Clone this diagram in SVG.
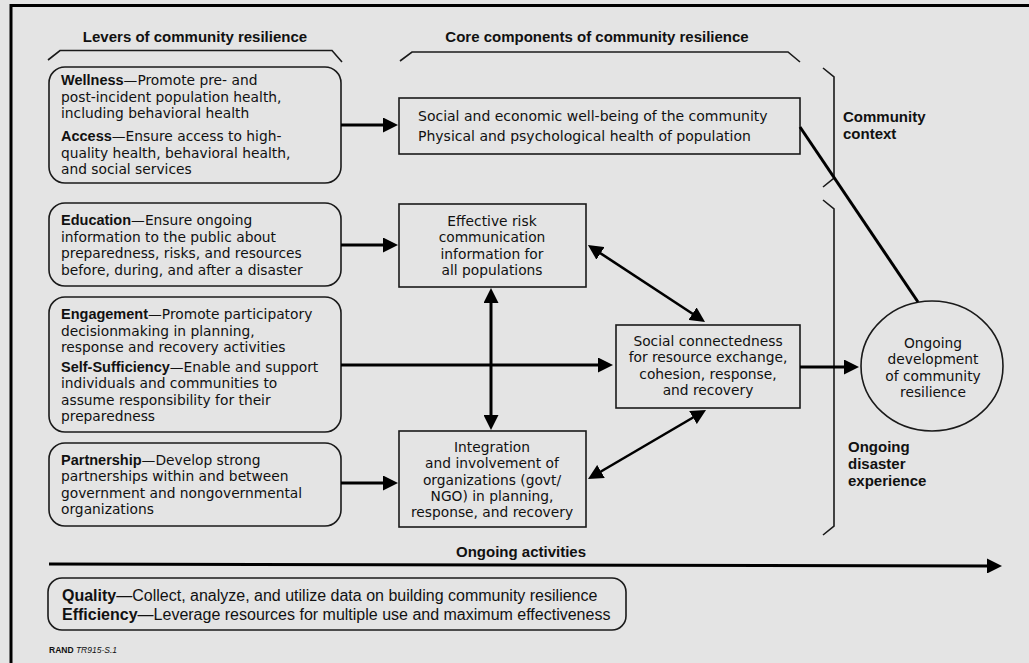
<svg xmlns="http://www.w3.org/2000/svg" width="1029" height="663" viewBox="0 0 1029 663">
  <style>
    .t { font-family: "DejaVu Sans", "Noto Sans", sans-serif; font-size: 13.8px; fill: #111; }
    .b { font-family: "Liberation Sans", Arial, sans-serif; font-weight: bold; font-size: 14.5px; }
    .h { font-family: "Liberation Sans", Arial, sans-serif; font-weight: bold; font-size: 15px; fill: #111; }
    .c { text-anchor: middle; }
    .q { font-family: "Liberation Sans", Arial, sans-serif; font-size: 16px; fill: #111; }
    .qb { font-weight: bold; }
    .box { fill: none; stroke: #1a1a1a; stroke-width: 1.6; }
    .brk { fill: none; stroke: #1a1a1a; stroke-width: 1.6; }
    .arr { fill: none; stroke: #000; stroke-width: 3; }
    .arr2 { fill: none; stroke: #000; stroke-width: 2.6; }
  </style>
  <defs>
    <marker id="head" viewBox="0 0 10 10" refX="4" refY="5" markerWidth="5" markerHeight="5" orient="auto-start-reverse" markerUnits="strokeWidth">
      <path d="M0,0 L10,5 L0,10 z" fill="#000"/>
    </marker>
    <marker id="head2" viewBox="0 0 10 10" refX="4" refY="5" markerWidth="5.8" markerHeight="5.8" orient="auto-start-reverse" markerUnits="strokeWidth">
      <path d="M0,0 L10,5 L0,10 z" fill="#000"/>
    </marker>
  </defs>

  <!-- page and frame -->
  <rect x="0" y="0" width="1029" height="663" fill="#e4e4e4"/>
  <path d="M11,663 V5.5 H1029" fill="none" stroke="#000" stroke-width="3"/>

  <!-- column headings with brackets -->
  <g id="heading-levers">
    <text class="h c" x="195" y="42">Levers of community resilience</text>
    <path class="brk" d="M48,60 L60,50.5 H332 L342,62"/>
  </g>
  <g id="heading-core">
    <text class="h c" x="597" y="42">Core components of community resilience</text>
    <path class="brk" d="M400,61 L412,52 H788 L800,62"/>
  </g>

  <!-- side brackets -->
  <g id="bracket-community-context">
    <path class="brk" d="M823,68 L834,77 V178 L823,187"/>
    <text class="h" x="843" y="122">Community</text>
    <text class="h" x="843" y="139">context</text>
  </g>
  <g id="bracket-disaster-experience">
    <path class="brk" d="M823,200 L834,209 V526 L823,535"/>
    <text class="h" x="848" y="452">Ongoing</text>
    <text class="h" x="848" y="469">disaster</text>
    <text class="h" x="848" y="486">experience</text>
  </g>

  <!-- levers -->
  <g id="lever-wellness-access">
    <rect class="box" x="49" y="67" width="292" height="116" rx="16"/>
    <text class="t" x="61" y="85"><tspan class="b">Wellness</tspan>—Promote pre- and</text>
    <text class="t" x="61" y="101.5">post-incident population health,</text>
    <text class="t" x="61" y="118">including behavioral health</text>
    <text class="t" x="61" y="141"><tspan class="b">Access</tspan>—Ensure access to high-</text>
    <text class="t" x="61" y="157.5">quality health, behavioral health,</text>
    <text class="t" x="61" y="174">and social services</text>
  </g>
  <g id="lever-education">
    <rect class="box" x="49" y="203" width="292" height="83" rx="16"/>
    <text class="t" x="61" y="225"><tspan class="b">Education</tspan>—Ensure ongoing</text>
    <text class="t" x="61" y="241.5">information to the public about</text>
    <text class="t" x="61" y="258">preparedness, risks, and resources</text>
    <text class="t" x="61" y="274.5">before, during, and after a disaster</text>
  </g>
  <g id="lever-engagement-selfsufficiency">
    <rect class="box" x="49" y="297" width="292" height="135" rx="16"/>
    <text class="t" x="61" y="319"><tspan class="b">Engagement</tspan>—Promote participatory</text>
    <text class="t" x="61" y="335.5">decisionmaking in planning,</text>
    <text class="t" x="61" y="352">response and recovery activities</text>
    <text class="t" x="61" y="372"><tspan class="b">Self-Sufficiency</tspan>—Enable and support</text>
    <text class="t" x="61" y="388.3">individuals and communities to</text>
    <text class="t" x="61" y="404.6">assume responsibility for their</text>
    <text class="t" x="61" y="421">preparedness</text>
  </g>
  <g id="lever-partnership">
    <rect class="box" x="49" y="443" width="292" height="83" rx="16"/>
    <text class="t" x="61" y="465"><tspan class="b">Partnership</tspan>—Develop strong</text>
    <text class="t" x="61" y="481.3">partnerships within and between</text>
    <text class="t" x="61" y="497.6">government and nongovernmental</text>
    <text class="t" x="61" y="514">organizations</text>
  </g>

  <!-- core components -->
  <g id="core-wellbeing">
    <rect class="box" x="399" y="98" width="401" height="56"/>
    <text class="t" x="418" y="121" style="font-size:14px">Social and economic well-being of the community</text>
    <text class="t" x="418" y="141" style="font-size:14px">Physical and psychological health of population</text>
  </g>
  <g id="core-risk-communication">
    <rect class="box" x="399" y="204" width="187" height="83"/>
    <text class="t c" x="492" y="226">Effective risk</text>
    <text class="t c" x="492" y="242.3">communication</text>
    <text class="t c" x="492" y="258.6">information for</text>
    <text class="t c" x="492" y="275">all populations</text>
  </g>
  <g id="core-social-connectedness">
    <rect class="box" x="616" y="325" width="184" height="83"/>
    <text class="t c" x="708" y="346">Social connectedness</text>
    <text class="t c" x="708" y="362.3">for resource exchange,</text>
    <text class="t c" x="708" y="378.6">cohesion, response,</text>
    <text class="t c" x="708" y="395">and recovery</text>
  </g>
  <g id="core-integration">
    <rect class="box" x="399" y="431" width="187" height="96"/>
    <text class="t c" x="492" y="452">Integration</text>
    <text class="t c" x="492" y="468.3">and involvement of</text>
    <text class="t c" x="492" y="484.6">organizations (govt/</text>
    <text class="t c" x="492" y="501">NGO) in planning,</text>
    <text class="t c" x="492" y="517.3">response, and recovery</text>
  </g>

  <!-- outcome -->
  <g id="outcome-resilience">
    <ellipse class="box" cx="932" cy="366" rx="71" ry="65"/>
    <text class="t c" x="933" y="348">Ongoing</text>
    <text class="t c" x="933" y="364.3">development</text>
    <text class="t c" x="933" y="380.6">of community</text>
    <text class="t c" x="933" y="397">resilience</text>
  </g>

  <!-- ongoing activities -->
  <g id="ongoing-activities">
    <text class="h c" x="521" y="557">Ongoing activities</text>
  </g>
  <g id="activities-quality-efficiency">
    <rect class="box" x="48" y="578" width="578" height="52" rx="14"/>
    <text class="q" x="62" y="601"><tspan class="qb">Quality</tspan>—Collect, analyze, and utilize data on building community resilience</text>
    <text class="q" x="62" y="619.5"><tspan class="qb">Efficiency</tspan>—Leverage resources for multiple use and maximum effectiveness</text>
  </g>
  <g id="source-note">
    <text x="49" y="653" font-family="Liberation Sans, Arial, sans-serif" font-size="8.5" font-weight="bold" fill="#111">RAND <tspan font-style="italic" font-weight="normal">TR915-S.1</tspan></text>
  </g>

  <!-- connectors -->
  <g id="connectors">
    <path class="arr" d="M341,125 H389" marker-end="url(#head)"/>
    <path class="arr" d="M341,245 H389" marker-end="url(#head)"/>
    <path class="arr" d="M341,365 H604" marker-end="url(#head)"/>
    <path class="arr" d="M341,483 H389" marker-end="url(#head)"/>
    <path class="arr" d="M491,297 V421" marker-start="url(#head)" marker-end="url(#head)"/>
    <path class="arr2" d="M595.5,250 L697.5,317" marker-start="url(#head2)" marker-end="url(#head2)"/>
    <path class="arr2" d="M595.8,474.5 L698.2,414.5" marker-start="url(#head2)" marker-end="url(#head2)"/>
    <path class="arr" d="M800,367 H850" marker-end="url(#head)"/>
    <path class="arr" d="M800,127 L918,302"/>
    <path class="arr" d="M49,564 L993,566" marker-end="url(#head)"/>
  </g>
</svg>
